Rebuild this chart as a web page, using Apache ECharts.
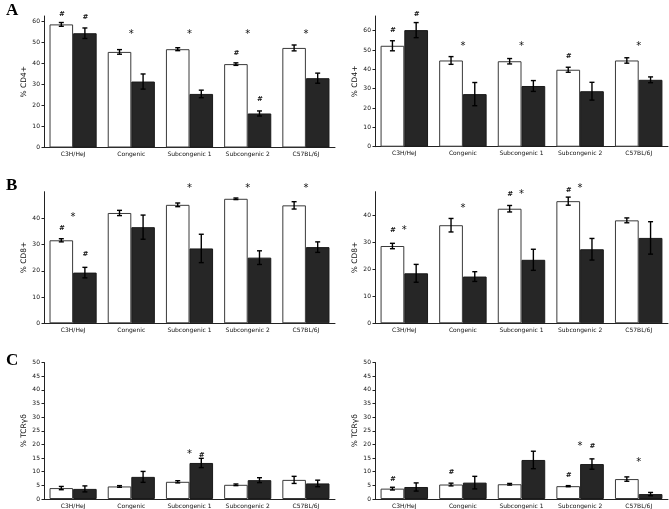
<!DOCTYPE html>
<html>
<head>
<meta charset="utf-8">
<script src="https://cdn.jsdelivr.net/npm/echarts@6.0.0/dist/echarts.min.js"></script>
<style>
  html, body { margin: 0; padding: 0; background: #fff; }
  #chart { width: 669px; height: 509px; }
</style>
</head>
<body>
<div id="chart"></div>
<script>
// strains on the x axis
const categories = ['C3H/HeJ', 'Congenic', 'Subcongenic 1', 'Subcongenic 2', 'C57BL/6J'];

// A - % CD4+
const cd4LeftWhite = [58.6, 45.5, 46.8, 39.7, 47.4];
const cd4LeftWhiteErr = [0.9, 1.1, 0.7, 0.6, 1.4];
const cd4LeftDark = [54.4, 31.4, 25.5, 16.2, 33.0];
const cd4LeftDarkErr = [2.5, 3.6, 1.8, 1.2, 2.4];
const cd4RightWhite = [52.2, 44.6, 44.2, 39.8, 44.6];
const cd4RightWhiteErr = [2.6, 2.0, 1.4, 1.3, 1.4];
const cd4RightDark = [60.3, 27.2, 31.4, 28.7, 34.6];
const cd4RightDarkErr = [3.9, 6.0, 2.8, 4.6, 1.5];

// B - % CD8+
const cd8LeftWhite = [31.6, 42.0, 45.1, 47.4, 44.9];
const cd8LeftWhiteErr = [0.6, 1.0, 0.7, 0.3, 1.4];
const cd8LeftDark = [19.3, 36.6, 28.5, 25.0, 29.0];
const cd8LeftDarkErr = [2.0, 4.6, 5.4, 2.6, 2.0];
const cd8RightWhite = [28.6, 36.3, 42.4, 45.2, 38.1];
const cd8RightWhiteErr = [1.0, 2.5, 1.2, 1.5, 0.9];
const cd8RightDark = [18.5, 17.3, 23.5, 27.4, 31.6];
const cd8RightDarkErr = [3.3, 1.8, 3.9, 4.0, 6.0];

// C - % TCRγδ
const tcrLeftWhite = [4.0, 4.6, 6.3, 5.2, 7.0];
const tcrLeftWhiteErr = [0.6, 0.3, 0.4, 0.3, 1.3];
const tcrLeftDark = [3.7, 8.1, 13.2, 6.9, 5.7];
const tcrLeftDarkErr = [1.1, 2.0, 1.7, 0.9, 1.2];
const tcrRightWhite = [3.8, 5.3, 5.4, 4.7, 7.3];
const tcrRightWhiteErr = [0.5, 0.5, 0.3, 0.2, 0.8];
const tcrRightDark = [4.4, 6.0, 14.3, 12.8, 1.8];
const tcrRightDarkErr = [1.5, 2.3, 3.2, 1.9, 0.6];

// significance marks: [category, bar (-1 white, 0 centre, 1 dark), value, text]
const cd4LeftMarks = [[0, -1, 63.5, '#'], [0, 1, 62.0, '#'], [1, 0, 55, '*'], [2, 0, 55, '*'],
  [3, 0, 55, '*'], [3, -1, 44.9, '#'], [3, 1, 23.0, '#'], [4, 0, 55, '*']];
const cd4RightMarks = [[0, -1, 60.5, '#'], [0, 1, 68.5, '#'], [1, 0, 53, '*'], [2, 0, 53, '*'],
  [3, -1, 46.8, '#'], [4, 0, 53, '*']];
const cd8LeftMarks = [[0, -1, 36.3, '#'], [0, 0, 41, '*'], [0, 1, 26.3, '#'], [2, 0, 52, '*'],
  [3, 0, 52, '*'], [4, 0, 52, '*']];
const cd8RightMarks = [[0, -1, 34.3, '#'], [0, 0, 35.3, '*'], [1, 0, 43.3, '*'], [2, -1, 47.8, '#'],
  [2, 0, 48.6, '*'], [3, -1, 49.4, '#'], [3, 0, 50.6, '*']];
const tcrLeftMarks = [[2, 0, 17.1, '*'], [2, 1, 16.2, '#']];
const tcrRightMarks = [[0, -1, 7.4, '#'], [1, -1, 9.8, '#'], [3, -1, 8.9, '#'], [3, 0, 20.1, '*'],
  [3, 1, 19.3, '#'], [4, 0, 14.2, '*']];

const cd4Ticks = [0, 10, 20, 30, 40, 50, 60];
const cd8Ticks = [0, 10, 20, 30, 40];
const tcrTicks = [0, 5, 10, 15, 20, 25, 30, 35, 40, 45, 50];

const GAP = 0.19; // barCategoryGap

const panels = [
  { grid: { left: 44, top: 16, width: 291, height: 131.5 }, max: 62.6, ticks: cd4Ticks, name: '% CD4+',
    white: cd4LeftWhite, whiteErr: cd4LeftWhiteErr, dark: cd4LeftDark, darkErr: cd4LeftDarkErr, marks: cd4LeftMarks },
  { grid: { left: 375, top: 16, width: 293, height: 130.7 }, max: 67.6, ticks: cd4Ticks, name: '% CD4+',
    white: cd4RightWhite, whiteErr: cd4RightWhiteErr, dark: cd4RightDark, darkErr: cd4RightDarkErr, marks: cd4RightMarks },
  { grid: { left: 44, top: 191.7, width: 291, height: 131.6 }, max: 50.1, ticks: cd8Ticks, name: '% CD8+',
    white: cd8LeftWhite, whiteErr: cd8LeftWhiteErr, dark: cd8LeftDark, darkErr: cd8LeftDarkErr, marks: cd8LeftMarks },
  { grid: { left: 375, top: 191.7, width: 293, height: 131.6 }, max: 48.7, ticks: cd8Ticks, name: '% CD8+',
    white: cd8RightWhite, whiteErr: cd8RightWhiteErr, dark: cd8RightDark, darkErr: cd8RightDarkErr, marks: cd8RightMarks },
  { grid: { left: 44, top: 362.5, width: 291, height: 137 }, max: 50, ticks: tcrTicks, name: '% TCRγδ',
    white: tcrLeftWhite, whiteErr: tcrLeftWhiteErr, dark: tcrLeftDark, darkErr: tcrLeftDarkErr, marks: tcrLeftMarks },
  { grid: { left: 375, top: 362.5, width: 293, height: 137 }, max: 50, ticks: tcrTicks, name: '% TCRγδ',
    white: tcrRightWhite, whiteErr: tcrRightWhiteErr, dark: tcrRightDark, darkErr: tcrRightDarkErr, marks: tcrRightMarks }
];

const axisColor = '#222';
const tickFont = { fontFamily: 'DejaVu Sans', fontSize: 6, color: '#111' };

const grids = [], xAxes = [], yAxes = [], series = [];

function errorSeries(k, means, errs, side) {
  return {
    type: 'custom',
    xAxisIndex: k, yAxisIndex: k,
    z: 4,
    silent: true,
    data: means.map((m, i) => [i, m, errs[i]]),
    renderItem: function (params, api) {
      const i = api.value(0), m = api.value(1), e = api.value(2);
      const band = api.size([1, 0])[0];
      const off = side * band * (1 - GAP) / 4;
      const top = api.coord([i, m + e]);
      const bot = api.coord([i, m - e]);
      const x = top[0] + off;
      const cap = 2.5;
      const st = { stroke: '#000', lineWidth: 1.4 };
      return {
        type: 'group',
        children: [
          { type: 'line', shape: { x1: x, y1: top[1], x2: x, y2: bot[1] }, style: st },
          { type: 'line', shape: { x1: x - cap, y1: top[1], x2: x + cap, y2: top[1] }, style: st },
          { type: 'line', shape: { x1: x - cap, y1: bot[1], x2: x + cap, y2: bot[1] }, style: st }
        ]
      };
    }
  };
}

panels.forEach((p, k) => {
  grids.push(p.grid);
  xAxes.push({
    type: 'category',
    gridIndex: k,
    data: categories,
    axisLine: { lineStyle: { color: axisColor, width: 1 } },
    axisTick: { show: false },
    axisLabel: Object.assign({ margin: 4, interval: 0 }, tickFont),
    splitLine: { show: false }
  });
  yAxes.push({
    type: 'value',
    gridIndex: k,
    min: 0,
    max: p.max,
    name: p.name,
    nameLocation: 'middle',
    nameGap: 16,
    nameTextStyle: { fontFamily: 'DejaVu Sans', fontSize: 7.5, color: '#111' },
    axisLine: { show: true, lineStyle: { color: axisColor, width: 1 } },
    axisTick: { show: true, length: 2.5, customValues: p.ticks, lineStyle: { color: axisColor } },
    axisLabel: Object.assign({ margin: 4, customValues: p.ticks }, tickFont),
    splitLine: { show: false }
  });
  series.push({
    type: 'bar', xAxisIndex: k, yAxisIndex: k,
    data: p.white,
    barGap: '0%', barCategoryGap: (GAP * 100) + '%',
    itemStyle: { color: '#ffffff', borderColor: '#3a3a3a', borderWidth: 1 }
  });
  series.push({
    type: 'bar', xAxisIndex: k, yAxisIndex: k,
    data: p.dark,
    barGap: '0%', barCategoryGap: (GAP * 100) + '%',
    itemStyle: { color: '#262626', borderColor: '#1a1a1a', borderWidth: 1 }
  });
  series.push(errorSeries(k, p.white, p.whiteErr, -1));
  series.push(errorSeries(k, p.dark, p.darkErr, 1));
  const marks = p.marks;
  series.push({
    type: 'custom',
    xAxisIndex: k, yAxisIndex: k,
    z: 5,
    silent: true,
    data: marks.map(m => [m[0], m[2]]),
    renderItem: function (params, api) {
      const mk = marks[params.dataIndex];
      const band = api.size([1, 0])[0];
      const off = mk[1] * band * (1 - GAP) / 4;
      const pt = api.coord([mk[0], mk[2]]);
      const star = mk[3] === '*';
      return {
        type: 'text',
        x: pt[0] + off,
        y: pt[1] + (star ? 2 : 0),
        style: {
          text: mk[3],
          fill: '#111',
          align: 'center',
          verticalAlign: 'middle',
          fontFamily: 'DejaVu Sans',
          fontSize: star ? 10 : 7,
          fontWeight: star ? 'normal' : 'bold',
          fontStyle: star ? 'normal' : 'italic'
        }
      };
    }
  });
});

const letterStyle = { fontFamily: 'Liberation Serif', fontWeight: 'bold', fontSize: 17, color: '#000' };

const chart = echarts.init(document.getElementById('chart'), null, { renderer: 'canvas' });
chart.setOption({
  animation: false,
  backgroundColor: '#fff',
  title: [
    { text: 'A', left: 1, top: -3, textStyle: letterStyle },
    { text: 'B', left: 1, top: 172, textStyle: letterStyle },
    { text: 'C', left: 1, top: 347, textStyle: letterStyle }
  ],
  grid: grids,
  xAxis: xAxes,
  yAxis: yAxes,
  series: series
});
</script>
</body>
</html>
